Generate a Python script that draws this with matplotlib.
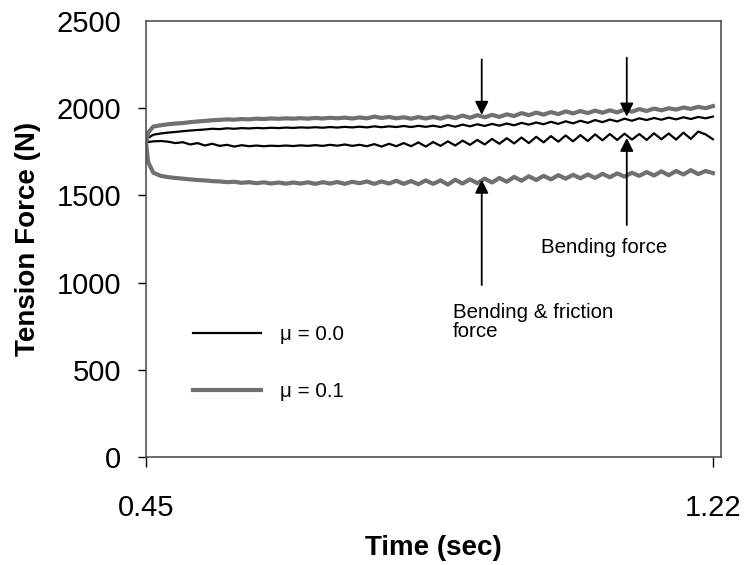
#!/usr/bin/env python
# coding=utf-8
"""
Tension force in the strip over time, with and without friction
"""

import matplotlib
matplotlib.use('Agg')
import matplotlib.pyplot as plt

plt.rcParams['font.family'] = ['Liberation Sans', 'DejaVu Sans']

#  Time steps in sec
time = [0.45, 0.453,
        0.46, 0.47, 0.48, 0.49,
        0.50, 0.51, 0.52, 0.53, 0.54, 0.55, 0.56, 0.57, 0.58, 0.59,
        0.60, 0.61, 0.62, 0.63, 0.64, 0.65, 0.66, 0.67, 0.68, 0.69,
        0.70, 0.71, 0.72, 0.73, 0.74, 0.75, 0.76, 0.77, 0.78, 0.79,
        0.80, 0.81, 0.82, 0.83, 0.84, 0.85, 0.86, 0.87, 0.88, 0.89,
        0.90, 0.91, 0.92, 0.93, 0.94, 0.95, 0.96, 0.97, 0.98, 0.99,
        1.00, 1.01, 1.02, 1.03, 1.04, 1.05, 1.06, 1.07, 1.08, 1.09,
        1.10, 1.11, 1.12, 1.13, 1.14, 1.15, 1.16, 1.17, 1.18, 1.19,
        1.20, 1.21, 1.22]

#  mu = 0.1, upper curve (bending & friction)
f_mu01_hi = [1800, 1860,
             1895, 1902, 1908, 1912,
             1915, 1920, 1924, 1927, 1931, 1933, 1936, 1934, 1938, 1936,
             1940, 1938, 1941, 1939, 1942, 1940, 1943, 1940, 1944, 1941,
             1945, 1942, 1946, 1941, 1947, 1942, 1952, 1944, 1950, 1942,
             1948, 1940, 1949, 1941, 1950, 1940, 1953, 1943, 1958, 1945,
             1960, 1948, 1962, 1950, 1965, 1955, 1972, 1960, 1975, 1963,
             1978, 1966, 1982, 1970, 1984, 1972, 1986, 1974, 1988, 1976,
             1992, 1980, 1995, 1984, 1998, 1988, 2000, 1992, 2004, 1996,
             2008, 2000, 2012]

#  mu = 0.0, upper curve (bending)
f_mu00_hi = [1800, 1830,
             1848, 1855, 1860, 1864,
             1868, 1872, 1875, 1878, 1882, 1880, 1885, 1882, 1886, 1884,
             1887, 1885, 1888, 1886, 1889, 1887, 1890, 1888, 1891, 1888,
             1892, 1889, 1893, 1890, 1894, 1890, 1896, 1891, 1896, 1892,
             1898, 1892, 1899, 1893, 1900, 1892, 1904, 1894, 1906, 1896,
             1908, 1898, 1910, 1900, 1912, 1902, 1916, 1906, 1918, 1908,
             1922, 1910, 1925, 1913, 1928, 1916, 1932, 1920, 1935, 1924,
             1940, 1928, 1942, 1932, 1944, 1934, 1946, 1936, 1948, 1938,
             1950, 1942, 1952]

#  mu = 0.0, lower curve (bending)
f_mu00_lo = [1800, 1806,
             1810, 1812, 1808, 1800,
             1805, 1792, 1800, 1786, 1796, 1784, 1790, 1780, 1788, 1782,
             1786, 1782, 1785, 1783, 1786, 1783, 1787, 1784, 1788, 1784,
             1790, 1785, 1792, 1784, 1790, 1782, 1794, 1780, 1796, 1782,
             1800, 1782, 1804, 1780, 1806, 1784, 1810, 1786, 1814, 1790,
             1818, 1792, 1824, 1796, 1828, 1798, 1832, 1800, 1836, 1804,
             1840, 1808, 1844, 1810, 1846, 1812, 1850, 1816, 1852, 1818,
             1854, 1820, 1852, 1818, 1856, 1822, 1855, 1820, 1860, 1824,
             1866, 1850, 1822]

#  mu = 0.1, lower curve (bending & friction)
f_mu01_lo = [1800, 1690,
             1630, 1612, 1605, 1600,
             1596, 1592, 1588, 1586, 1582, 1580, 1576, 1578, 1572, 1576,
             1570, 1575, 1568, 1574, 1567, 1574, 1568, 1575, 1566, 1576,
             1568, 1577, 1566, 1578, 1570, 1580, 1566, 1580, 1568, 1584,
             1566, 1582, 1564, 1586, 1566, 1586, 1562, 1590, 1568, 1592,
             1570, 1596, 1574, 1600, 1578, 1606, 1584, 1610, 1588, 1612,
             1592, 1616, 1596, 1618, 1598, 1620, 1600, 1624, 1604, 1626,
             1608, 1630, 1612, 1634, 1614, 1638, 1616, 1640, 1620, 1645,
             1622, 1640, 1628]

#  Arrow annotations: (time, tail, tip)
arrows_down = [(0.906, 2280, 1962), (1.103, 2290, 1952)]
arrows_up = [(0.906, 986, 1590), (1.103, 1330, 1830)]

gray = '#707070'

fig = plt.figure(figsize=(7.46, 5.65), dpi=100)
ax = fig.add_axes([0.1957, 0.1912, 0.7708, 0.7716])

ax.plot(time, f_mu00_hi, color='black', lw=1.6, label='\u03bc = 0.0')
ax.plot(time, f_mu00_lo, color='black', lw=1.6)
ax.plot(time, f_mu01_hi, color=gray, lw=3.0, label='\u03bc = 0.1')
ax.plot(time, f_mu01_lo, color=gray, lw=3.0)

for (t, tail, tip) in arrows_down + arrows_up:
    ax.annotate('', xy=(t, tip), xytext=(t, tail),
                arrowprops=dict(arrowstyle='-|>', color='black', lw=1.3,
                                mutation_scale=20, shrinkA=0, shrinkB=0))

ax.text(1.072, 1200, 'Bending force', fontsize=14.8, ha='center',
        va='center')
ax.text(0.867, 774, 'Bending & friction\nforce', fontsize=14.8,
        ha='left', va='center', linespacing=1.05)

ax.set_xlim(0.45, 1.231)
ax.set_ylim(0, 2500)
ax.set_xticks([0.45, 1.22])
ax.set_xticklabels(['0.45', '1.22'])
ax.set_yticks([0, 500, 1000, 1500, 2000, 2500])

ax.tick_params(axis='x', direction='out', length=7, width=1, pad=20,
               labelsize=21)
ax.tick_params(axis='y', direction='out', length=6, width=1, pad=12,
               labelsize=21)
ax.yaxis.get_major_ticks()[-1].tick1line.set_visible(False)

for sp in ax.spines.values():
    sp.set_color('#444444')
    sp.set_linewidth(1.1)

ax.set_xlabel('Time (sec)', fontsize=20, fontweight='bold')
ax.set_ylabel('Tension Force (N)', fontsize=20, fontweight='bold')
ax.xaxis.set_label_coords(0.5, -0.179)
ax.yaxis.set_label_coords(-0.183, 0.5)

leg = ax.legend(loc='upper left', bbox_to_anchor=(0.068, 0.321),
                frameon=False, fontsize=14.8, handlelength=3.3,
                handletextpad=0.9, labelspacing=1.85, borderaxespad=0)

fig.savefig('out.png', dpi=100)
plt.close(fig)
